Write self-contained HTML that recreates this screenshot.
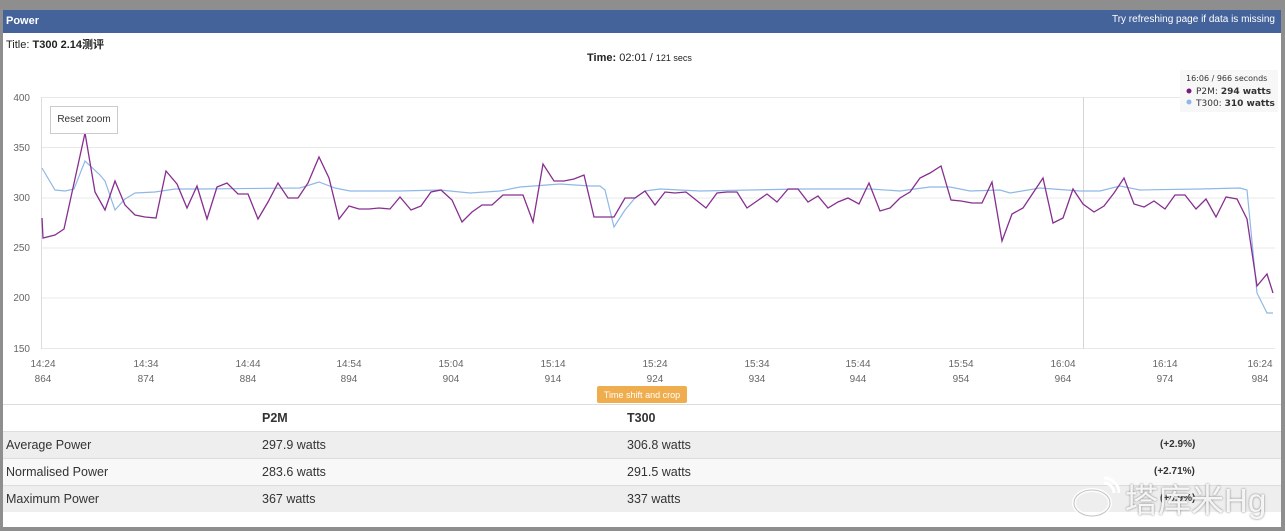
<!DOCTYPE html>
<html><head><meta charset="utf-8"><style>
body{margin:0;width:1285px;height:531px;background:#8e8e8e;font-family:"Liberation Sans","Noto Sans CJK SC",sans-serif;position:relative;overflow:hidden}
.panel{position:absolute;left:3px;top:10px;width:1278px;height:517px;background:#fff}
.hdr{position:absolute;left:0;top:0;width:1278px;height:23px;background:#44639a;color:#fff;font-size:11px}
.t{position:absolute;white-space:nowrap}
.tbl{position:absolute;left:3px;width:1278px;font-size:12.5px;color:#333}
</style></head><body>
<div class="panel">
<div class="hdr"><span class="t" style="left:3px;top:5px;font-weight:bold">Power</span><span class="t" style="right:6px;top:4px;font-size:10px">Try refreshing page if data is missing</span></div>
</div>
<span class="t" style="left:6px;top:36px;font-size:11px;color:#222">Title: <b>T300 2.14测评</b></span>
<span class="t" style="left:587px;top:52px;font-size:11px;color:#222"><b>Time:</b> 02:01 / <span style="font-size:9px">121 secs</span></span>
<svg style="position:absolute;left:0;top:0" width="1285" height="531">
<g stroke="#e8e8e8" stroke-width="1">
<line x1="41" x2="1275" y1="97.5" y2="97.5"/><line x1="41" x2="1275" y1="147.5" y2="147.5"/><line x1="41" x2="1275" y1="198" y2="198"/><line x1="41" x2="1275" y1="248" y2="248"/><line x1="41" x2="1275" y1="298" y2="298"/><line x1="41" x2="1275" y1="348.5" y2="348.5"/>
</g>
<line x1="41.5" x2="41.5" y1="97" y2="349" stroke="#ddd"/>
<line x1="1083.5" x2="1083.5" y1="97" y2="349" stroke="#d6d6d6"/>
<g font-size="10" fill="#666" font-family="Liberation Sans,sans-serif" text-anchor="end">
<text x="30" y="101">400</text><text x="30" y="151">350</text><text x="30" y="201">300</text><text x="30" y="251">250</text><text x="30" y="301">200</text><text x="30" y="352">150</text>
</g>
<g font-size="10" fill="#666" font-family="Liberation Sans,sans-serif" text-anchor="middle">
<text x="43" y="367">14:24</text><text x="43" y="382">864</text>
<text x="146" y="367">14:34</text><text x="146" y="382">874</text>
<text x="248" y="367">14:44</text><text x="248" y="382">884</text>
<text x="349" y="367">14:54</text><text x="349" y="382">894</text>
<text x="451" y="367">15:04</text><text x="451" y="382">904</text>
<text x="553" y="367">15:14</text><text x="553" y="382">914</text>
<text x="655" y="367">15:24</text><text x="655" y="382">924</text>
<text x="757" y="367">15:34</text><text x="757" y="382">934</text>
<text x="858" y="367">15:44</text><text x="858" y="382">944</text>
<text x="961" y="367">15:54</text><text x="961" y="382">954</text>
<text x="1063" y="367">16:04</text><text x="1063" y="382">964</text>
<text x="1165" y="367">16:14</text><text x="1165" y="382">974</text>
<text x="1260" y="367">16:24</text><text x="1260" y="382">984</text>
</g>
<polyline fill="none" stroke="#8fb8e6" stroke-width="1.2" points="42,168 55,190 65,191 74,189 85,161 100,175 105,181 115,210 125,199 135,193 155,192 175,189 200,189 300,188 319,182 335,188 350,191 400,191 440,190 450,191 470,193 500,191 520,187 560,184 590,186 600,186 605,190 614,227 625,210 635,198 645,191 660,189 700,191 800,189 840,189 870,189 900,191 930,187 950,187 970,191 1000,190 1010,193 1040,188 1080,191 1100,191 1120,186 1140,190 1200,189 1240,188 1247,190 1257,293 1267,313 1273,313"/>
<polyline fill="none" stroke="#862f8f" stroke-width="1.3" points="42,218 43,238 55,235 64,229 85,133 95,192 105,210 115,181 125,205 135,215 145,217 156,218 166,171 177,184 187,208 197,186 207,219 217,187 227,183 238,194 248,194 258,219 268,202 278,183 288,198 298,198 308,183 319,157 329,178 339,219 349,206 359,209 369,209 379,208 390,209 400,197 411,210 421,206 431,192 441,190 452,200 462,222 472,212 482,205 492,205 503,195 513,195 523,195 533,222 543,164 554,181 564,181 574,179 584,175 594,217 604,217 614,217 625,198 635,198 645,191 655,205 665,192 675,193 686,192 696,200 706,208 717,193 727,192 737,192 747,208 757,201 767,194 777,202 788,189 798,189 808,202 818,196 828,208 838,202 848,198 859,204 869,183 880,211 890,208 900,198 910,192 920,178 930,173 941,166 951,200 961,201 972,203 982,203 992,182 1002,241 1012,214 1023,208 1033,193 1043,178 1053,223 1063,218 1073,189 1083,204 1094,212 1104,206 1114,193 1124,178 1134,204 1144,207 1154,201 1165,209 1175,195 1185,195 1196,209 1206,199 1216,217 1226,197 1237,199 1247,219 1257,286 1267,274 1273,293"/>
<rect x="50.5" y="106.5" width="67" height="27" fill="#fff" stroke="#ccc"/>
<text x="84" y="122" font-size="10" fill="#333" text-anchor="middle" font-family="Liberation Sans,sans-serif">Reset zoom</text>
<rect x="1180" y="70" width="98" height="42" fill="#f7f7f7" opacity="0.95"/>
<g font-family="DejaVu Sans,sans-serif" fill="#333">
<text x="1186" y="81" font-size="8">16:06 / 966 seconds</text>
<circle cx="1189" cy="91" r="2.5" fill="#7a1a7f"/><text x="1196" y="94" font-size="9">P2M: <tspan font-weight="bold">294 watts</tspan></text>
<circle cx="1189" cy="102" r="2.5" fill="#8fb8e6"/><text x="1196" y="106" font-size="9">T300: <tspan font-weight="bold">310 watts</tspan></text>
</g>
<rect x="597" y="386" width="90" height="17" rx="2" fill="#f0ad4e"/>
<text x="642" y="398" font-size="9" fill="#fff" text-anchor="middle" font-family="Liberation Sans,sans-serif">Time shift and crop</text>
</svg>
<div class="tbl" style="top:404px;height:27px;border-top:1px solid #ddd;background:#fff"><b class="t" style="left:259px;top:6px">P2M</b><b class="t" style="left:624px;top:6px">T300</b></div>
<div class="tbl" style="top:431px;height:27px;border-top:1px solid #ddd;background:#eee"><span class="t" style="left:3px;top:6px">Average Power</span><span class="t" style="left:259px;top:6px">297.9 watts</span><span class="t" style="left:624px;top:6px">306.8 watts</span><b class="t" style="left:1157px;top:7px;font-size:10px">(+2.9%)</b></div>
<div class="tbl" style="top:458px;height:27px;border-top:1px solid #ddd;background:#f8f8f8"><span class="t" style="left:3px;top:6px">Normalised Power</span><span class="t" style="left:259px;top:6px">283.6 watts</span><span class="t" style="left:624px;top:6px">291.5 watts</span><b class="t" style="left:1151px;top:7px;font-size:10px">(+2.71%)</b></div>
<div class="tbl" style="top:485px;height:26px;border-top:1px solid #ddd;background:#eee"><span class="t" style="left:3px;top:6px">Maximum Power</span><span class="t" style="left:259px;top:6px">367 watts</span><span class="t" style="left:624px;top:6px">337 watts</span><b class="t" style="left:1157px;top:7px;font-size:10px">(+8.9%)</b></div>
<svg style="position:absolute;left:1070px;top:475px" width="50" height="45"><ellipse cx="22" cy="28" rx="18" ry="13" fill="none" stroke="#fff" stroke-width="4" opacity="0.9"/><ellipse cx="22" cy="28" rx="18" ry="13" fill="none" stroke="#999" stroke-width="1" opacity="0.6"/><path d="M34 8 a10 10 0 0 1 10 10 M34 3 a15 15 0 0 1 15 15" fill="none" stroke="#fff" stroke-width="3"/></svg>
<span class="t" style="left:1125px;top:474px;font-size:33px;color:rgba(255,255,255,0.9);text-shadow:0 0 2px #777">塔库米Hg</span>
</body></html>
